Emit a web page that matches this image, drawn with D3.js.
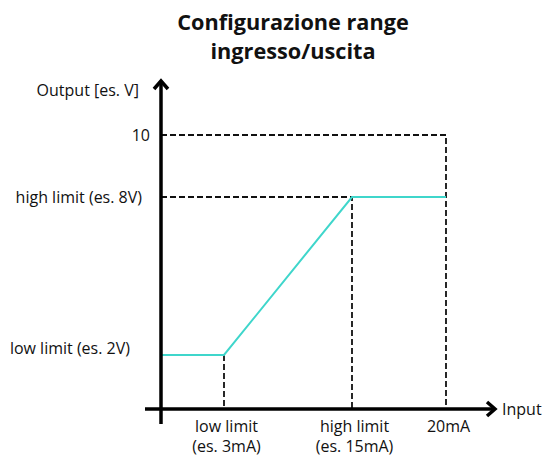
<!DOCTYPE html>
<html>
<head>
<meta charset="utf-8">
<script src="https://cdn.jsdelivr.net/npm/d3@7"></script>
<style>
  body { margin: 0; background: #fff; }
  text { font-family: "Open Sans", sans-serif; fill: #111; }
</style>
</head>
<body>
<div id="chart"></div>
<script>
// schematic values (piecewise scales, not to scale)
var inputs = [0, 3, 15, 20];      // mA
var outputs = [2, 2, 8, 8];       // V
var xTickValues = [3, 15, 20];
var xTickLabels = [["low limit", "(es. 3mA)"], ["high limit", "(es. 15mA)"], ["20mA"]];
var yTickValues = [2, 8, 10];
var yTickLabels = ["low limit (es. 2V)", "high limit (es. 8V)", "10"];
var titleLines = ["Configurazione range", "ingresso/uscita"];

var svgWidth = 544;
var svgHeight = 459;

var svg = d3.select("#chart")
  .append("svg")
  .attr("width", svgWidth)
  .attr("height", svgHeight);

var xScale = d3.scaleLinear()
  .domain([0, 3, 15, 20])
  .range([161, 224, 352, 446]);

var yScale = d3.scaleLinear()
  .domain([0, 2, 8, 10])
  .range([409, 355, 197, 135]);

// title
svg.append("text")
  .attr("x", 293)
  .attr("y", 30)
  .attr("text-anchor", "middle")
  .attr("font-size", "21.7px")
  .attr("font-weight", "bold")
  .selectAll("tspan")
  .data(titleLines)
  .enter()
  .append("tspan")
  .attr("x", 293)
  .attr("dy", (d, i) => i == 0 ? 0 : 29)
  .text(d => d);

// dashed guides
var guides = svg.append("g")
  .attr("fill", "none")
  .attr("stroke", "#111")
  .attr("stroke-width", 1.8)
  .attr("stroke-dasharray", "6,3");

guides.append("path")
  .attr("d", d3.line()([[xScale(0), yScale(10)], [xScale(20), yScale(10)], [xScale(20), yScale(0)]]));
guides.append("path")
  .attr("d", d3.line()([[xScale(0), yScale(8)], [xScale(15), yScale(8)], [xScale(15), yScale(0)]]));
guides.append("path")
  .attr("d", d3.line()([[xScale(3), yScale(2)], [xScale(3), yScale(0)]]));

// transfer curve
var line = d3.line()
  .x((d, i) => xScale(inputs[i]))
  .y(d => yScale(d));

svg.append("path")
  .datum(outputs)
  .attr("fill", "none")
  .attr("stroke", "#3fd6cb")
  .attr("stroke-width", 2)
  .attr("d", line);

// axes lines with arrows
var axes = svg.append("g")
  .attr("fill", "none")
  .attr("stroke", "#000")
  .attr("stroke-width", 3.5);

axes.append("line")
  .attr("x1", xScale(0)).attr("x2", xScale(0))
  .attr("y1", 424).attr("y2", 82);
axes.append("path")
  .attr("stroke-linejoin", "miter")
  .attr("d", d3.line()([[xScale(0) - 7, 89], [xScale(0), 81], [xScale(0) + 7, 89]]));

axes.append("line")
  .attr("x1", 145).attr("x2", 493)
  .attr("y1", yScale(0)).attr("y2", yScale(0));
axes.append("path")
  .attr("stroke-linejoin", "miter")
  .attr("d", d3.line()([[487, yScale(0) - 7], [495, yScale(0)], [487, yScale(0) + 7]]));

// y axis labels
var yAxis = d3.axisLeft(yScale)
  .tickValues(yTickValues)
  .tickSize(0)
  .tickPadding(11)
  .tickFormat((d, i) => yTickLabels[i]);

var yAxisG = svg.append("g")
  .attr("transform", `translate(${xScale(0)},0)`)
  .call(yAxis);
yAxisG.select(".domain").remove();
yAxisG.selectAll("text")
  .attr("font-size", "16px")
  .attr("font-family", "Open Sans, sans-serif")
  .attr("fill", "#111");
yAxisG.selectAll(".tick")
  .filter(d => d == 2)
  .select("text")
  .attr("dy", "-0.12em")
  .attr("x", -31);
yAxisG.selectAll(".tick")
  .filter(d => d == 8)
  .select("text")
  .attr("x", -19);

// x axis labels
var xAxis = d3.axisBottom(xScale)
  .tickValues(xTickValues)
  .tickSize(0)
  .tickFormat("");

var xAxisG = svg.append("g")
  .attr("transform", `translate(0,${yScale(0)})`)
  .call(xAxis);
xAxisG.select(".domain").remove();
xAxisG.selectAll(".tick text")
  .attr("font-size", "16px")
  .attr("font-family", "Open Sans, sans-serif")
  .attr("fill", "#111")
  .attr("y", 23)
  .attr("dy", 0)
  .each(function(d, i) {
    var t = d3.select(this);
    t.selectAll("tspan")
      .data(xTickLabels[i])
      .enter()
      .append("tspan")
      .attr("x", 2)
      .attr("dy", (s, j) => j == 0 ? 0 : 20)
      .text(s => s);
  });

// axis titles
svg.append("text")
  .attr("x", 139)
  .attr("y", 96)
  .attr("text-anchor", "end")
  .attr("font-size", "16px")
  .text("Output [es. V]");

svg.append("text")
  .attr("x", 502)
  .attr("y", 415)
  .attr("font-size", "16px")
  .text("Input");
</script>
</body>
</html>
